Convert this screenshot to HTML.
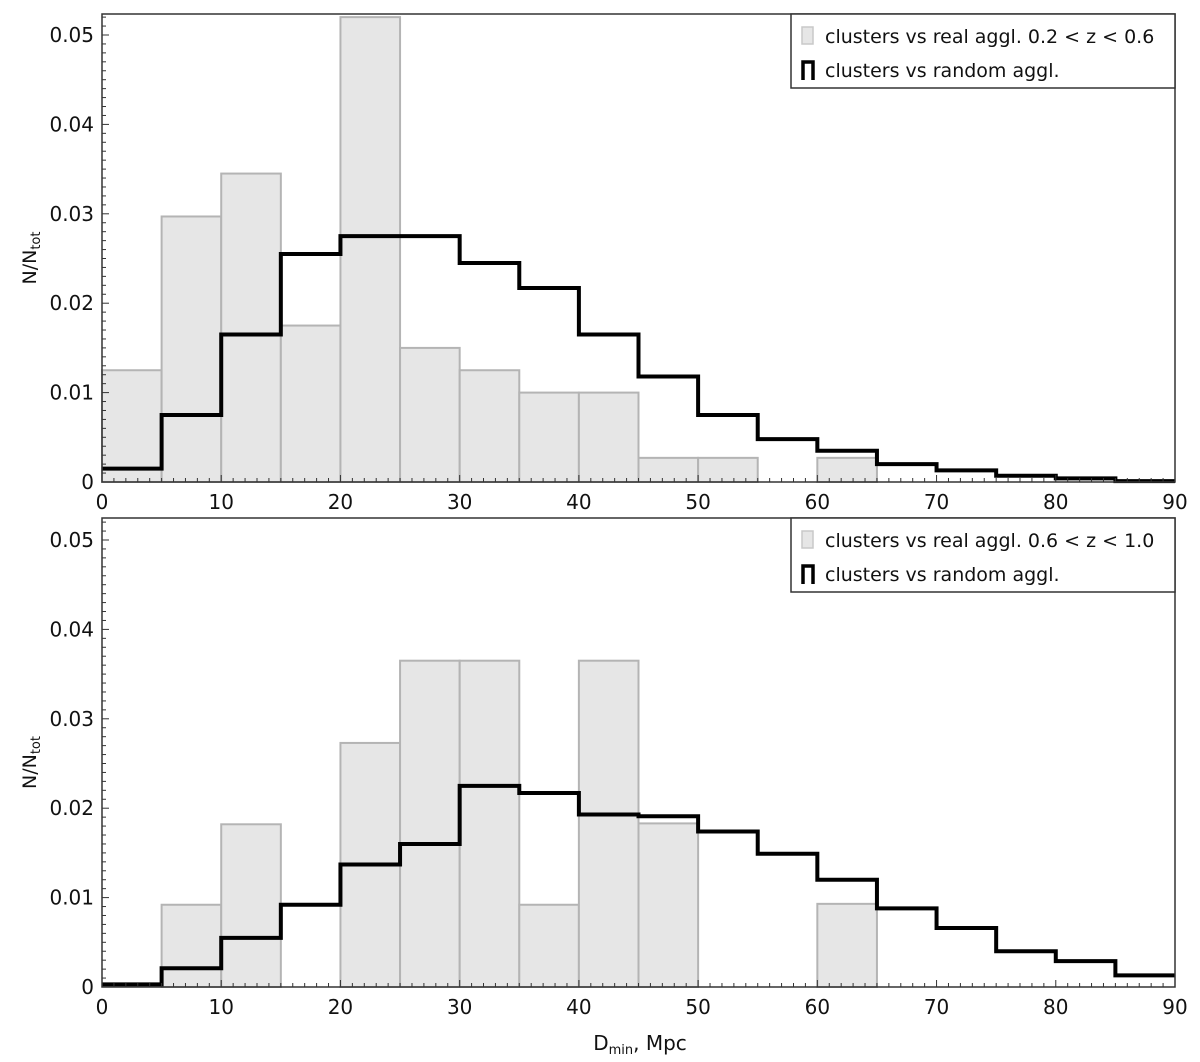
<!DOCTYPE html>
<html><head><meta charset="utf-8"><style>
html,body{margin:0;padding:0;background:#fff;}
svg{display:block;font-family:"DejaVu Sans","Liberation Sans",sans-serif;}
</style></head><body>
<svg id="chart" width="1200" height="1062" viewBox="0 0 1200 1062"></svg>
<script>
const binEdgeStart = 0, binWidth = 5;
const xTicks = [0,10,20,30,40,50,60,70,80,90];
const yTicks = [0,0.01,0.02,0.03,0.04,0.05];
const yTickLabels = ["0","0.01","0.02","0.03","0.04","0.05"];
const topReal = [0.0125,0.0297,0.0345,0.0175,0.052,0.015,0.0125,0.01,0.01,0.0027,0.0027,0,0.0027,0,0,0,0,0];
const topRandom = [0.0015,0.0075,0.0165,0.0255,0.0275,0.0275,0.0245,0.0217,0.0165,0.0118,0.0075,0.0048,0.0035,0.002,0.0013,0.0007,0.0004,0.0001];
const botReal = [0,0.0092,0.0182,0,0.0273,0.0365,0.0365,0.0092,0.0365,0.0183,0,0,0.0093,0,0,0,0,0];
const botRandom = [0.0003,0.0021,0.0055,0.0092,0.0137,0.016,0.0225,0.0217,0.0193,0.0191,0.0174,0.0149,0.012,0.0088,0.0066,0.004,0.0029,0.0013];
const topLegend = "clusters vs real aggl. 0.2 < z < 0.6";
const botLegend = "clusters vs real aggl. 0.6 < z < 1.0";
const randLegend = "clusters vs random aggl.";

const NS="http://www.w3.org/2000/svg";
const svg=document.getElementById('chart');
function mk(tag,attrs,parent){const e=document.createElementNS(NS,tag);for(const k in attrs)e.setAttribute(k,attrs[k]);(parent||svg).appendChild(e);return e;}

function panel(name,top,zeroY,real,rand,legendText,showXTitle){
  const x0=102,x1=1175,xmax=90,ymax=0.05,y05=zeroY-447;
  const sx=v=>x0+(v/xmax)*(x1-x0);
  const sy=v=>zeroY-(v/ymax)*(zeroY-y05);
  const g=mk('g',{});
  
  
  // bars
  real.forEach((v,i)=>{
    if(v<=0)return;
    const a=binEdgeStart+i*binWidth;
    const r=mk('rect',{x:sx(a),y:sy(v),width:sx(a+binWidth)-sx(a),height:zeroY-sy(v),fill:'#e6e6e6',stroke:'#b4b4b4','stroke-width':2},g);
    
    
  });
  // step line
  let d='';
  rand.forEach((v,i)=>{
    const a=binEdgeStart+i*binWidth;
    d+=(i===0?'M':'L')+sx(a)+','+sy(v)+' L'+sx(a+binWidth)+','+sy(v)+' ';
  });
  const p=mk('path',{d:d,fill:'none',stroke:'#000','stroke-width':4,'stroke-linejoin':'miter'},g);
  
  
  // frame
  const f=mk('rect',{x:x0,y:top,width:x1-x0,height:zeroY-top,fill:'none',stroke:'#333','stroke-width':1.5},g);
  
  
  // minor ticks
  for(let v=0;v<=xmax;v++){
    const len=v%10===0?7:4;
    mk('line',{x1:sx(v),x2:sx(v),y1:zeroY,y2:zeroY-len,stroke:'#333','stroke-width':1},g);
  }
  for(let k=0;k<=52;k++){
    const v=k*0.001;const len=k%10===0?7:4;
    mk('line',{x1:x0,x2:x0+len,y1:sy(v),y2:sy(v),stroke:'#333','stroke-width':1},g);
  }
  xTicks.forEach(v=>{
    const t=mk('text',{x:sx(v),y:zeroY+27,'text-anchor':'middle','font-size':20,fill:'#111'},g);
    t.textContent=v;
    
    
  });
  yTicks.forEach((v,i)=>{
    const t=mk('text',{x:x0-8,y:sy(v)+7,'text-anchor':'end','font-size':20,fill:'#111'},g);
    t.textContent=yTickLabels[i];
    
    
  });
  const yt=mk('text',{transform:`translate(36,${(top+zeroY)/2+10}) rotate(-90)`,'text-anchor':'middle','font-size':19,fill:'#111'},g);
  yt.innerHTML='N/N<tspan font-size="13" dy="4">tot</tspan>';
  
  
  // legend
  const lg=mk('g',{},g);
  
  
  mk('rect',{x:791,y:top,width:x1-791,height:74,fill:'#fff',stroke:'#333','stroke-width':1.5},lg);
  mk('rect',{x:802,y:top+13,width:11,height:17,fill:'#e6e6e6',stroke:'#c8c8c8','stroke-width':1.5},lg);
  mk('path',{d:`M803,${top+66} L803,${top+48} L813,${top+48} L813,${top+66}`,fill:'none',stroke:'#000','stroke-width':3.5},lg);
  const l1=mk('text',{x:825,y:top+29,'font-size':19,fill:'#111'},lg);l1.textContent=legendText;
  
  
  const l2=mk('text',{x:825,y:top+63,'font-size':19,fill:'#111'},lg);l2.textContent=randLegend;
  
  
  if(showXTitle){
    const xt=mk('text',{x:640,y:zeroY+63,'text-anchor':'middle','font-size':20,fill:'#111'},g);
    xt.innerHTML='D<tspan font-size="13" dy="4">min</tspan><tspan dy="-4">,  Mpc</tspan>';
    
    
  }
}
panel('top-panel',14,482,topReal,topRandom,topLegend,false);
panel('bottom-panel',518,987,botReal,botRandom,botLegend,true);
</script>
</body></html>
